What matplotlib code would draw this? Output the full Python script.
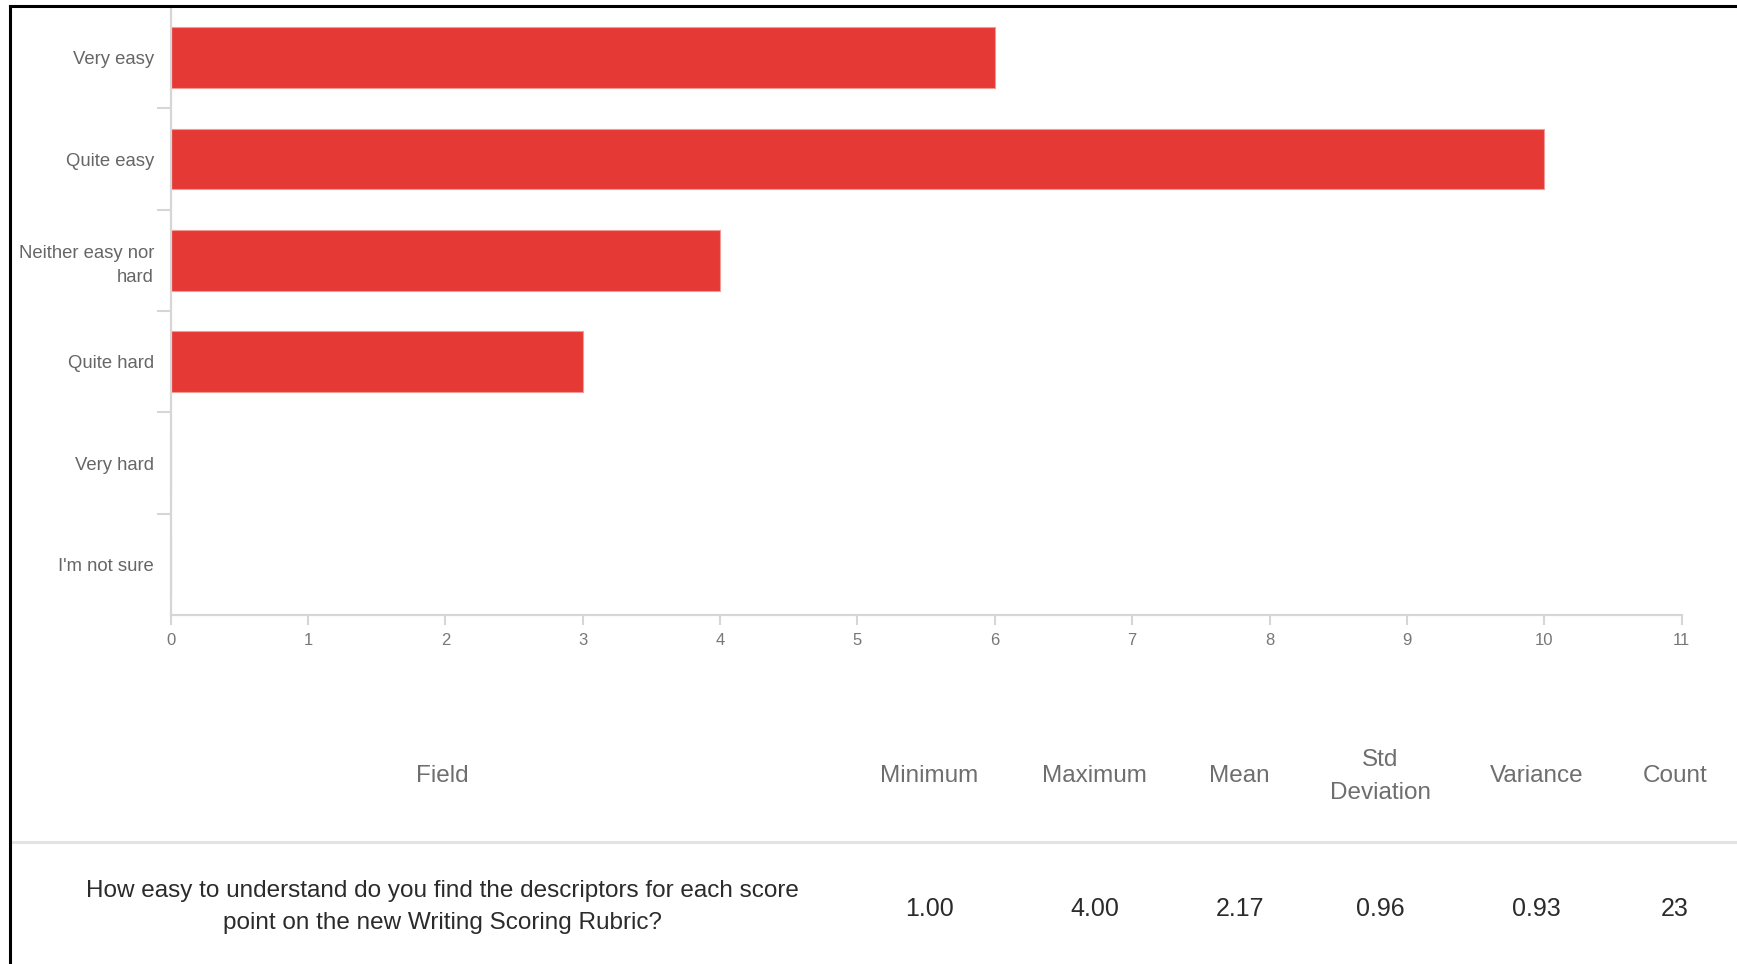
import matplotlib
matplotlib.use("Agg")
import matplotlib.pyplot as plt
from matplotlib.lines import Line2D

# survey answers and how many picked each one
answers = ["Very easy", "Quite easy", "Neither easy nor\nhard", "Quite hard",
           "Very hard", "I'm not sure"]
counts = [6, 10, 4, 3, 0, 0]

# summary table under the chart
columns = ["Field", "Minimum", "Maximum", "Mean", "Std\nDeviation", "Variance", "Count"]
question = ("How easy to understand do you find the descriptors for each score\n"
            "point on the new Writing Scoring Rubric?")
stats = ["1.00", "4.00", "2.17", "0.96", "0.93", "23"]

W, H = 1737, 964
fig = plt.figure(figsize=(W / 100, H / 100), dpi=100)
fig.patch.set_facecolor("white")

sans = ["Liberation Sans", "DejaVu Sans"]
grid_col = "#d6d6d6"

ax = fig.add_axes([170.6 / W, 1 - 615 / H, (1681.6 - 170.6) / W, (615 - 7) / H])
ypos = list(range(len(answers)))
ax.barh(ypos, counts, height=0.6, color="#e53935", edgecolor="#f29a96", linewidth=0.8)
ax.set_xlim(0, 11)
ax.set_ylim(len(answers) - 0.5, -0.5)
ax.set_xticks(range(12))
ax.set_xticklabels([str(i) for i in range(12)], family=sans, fontsize=12, color="#777777")
ax.tick_params(axis="x", length=7, width=1.5, color=grid_col, pad=6)

# category names sit between the boundary ticks
ax.set_yticks([i + 0.5 for i in range(len(answers) - 1)])
ax.set_yticklabels([])
ax.tick_params(axis="y", which="major", length=10, width=1.5, color=grid_col)
ax.set_yticks(ypos, minor=True)
ax.set_yticklabels(answers, minor=True, family=sans, fontsize=13.3,
                   color="#666666", linespacing=1.55)
ax.tick_params(axis="y", which="minor", length=0, pad=12)

for s in ["top", "right"]:
    ax.spines[s].set_visible(False)
for s in ["left", "bottom"]:
    ax.spines[s].set_color(grid_col)
    ax.spines[s].set_linewidth(1.6)

# table header, rule and the single data row
col_x = [442, 929.5, 1094.5, 1239.6, 1380.3, 1536.5, 1675]
for x, name in zip(col_x, columns):
    fig.text(x / W, 1 - 776.5 / H, name, ha="center", va="center", family=sans,
             fontsize=17.5, color="#6e6e6e", linespacing=1.65)
fig.add_artist(Line2D([11 / W, 1], [1 - 842 / H] * 2, color="#e3e3e3", linewidth=2.2))
fig.text(col_x[0] / W, 1 - 907 / H, question, ha="center", va="center",
         family=sans, fontsize=17.5, color="#2b2b2b", linespacing=1.62)
for x, v in zip(col_x[1:], stats):
    fig.text(x / W, 1 - 909 / H, v, ha="center", va="center", family=sans,
             fontsize=18, color="#2b2b2b")

# black frame on the left and top
fig.add_artist(Line2D([10 / W, 10 / W], [0, 1 - 6 / H], color="black", linewidth=2.2))
fig.add_artist(Line2D([10 / W, 1], [1 - 6 / H, 1 - 6 / H], color="black", linewidth=2.2))

fig.savefig("out.png", dpi=100, facecolor="white")
